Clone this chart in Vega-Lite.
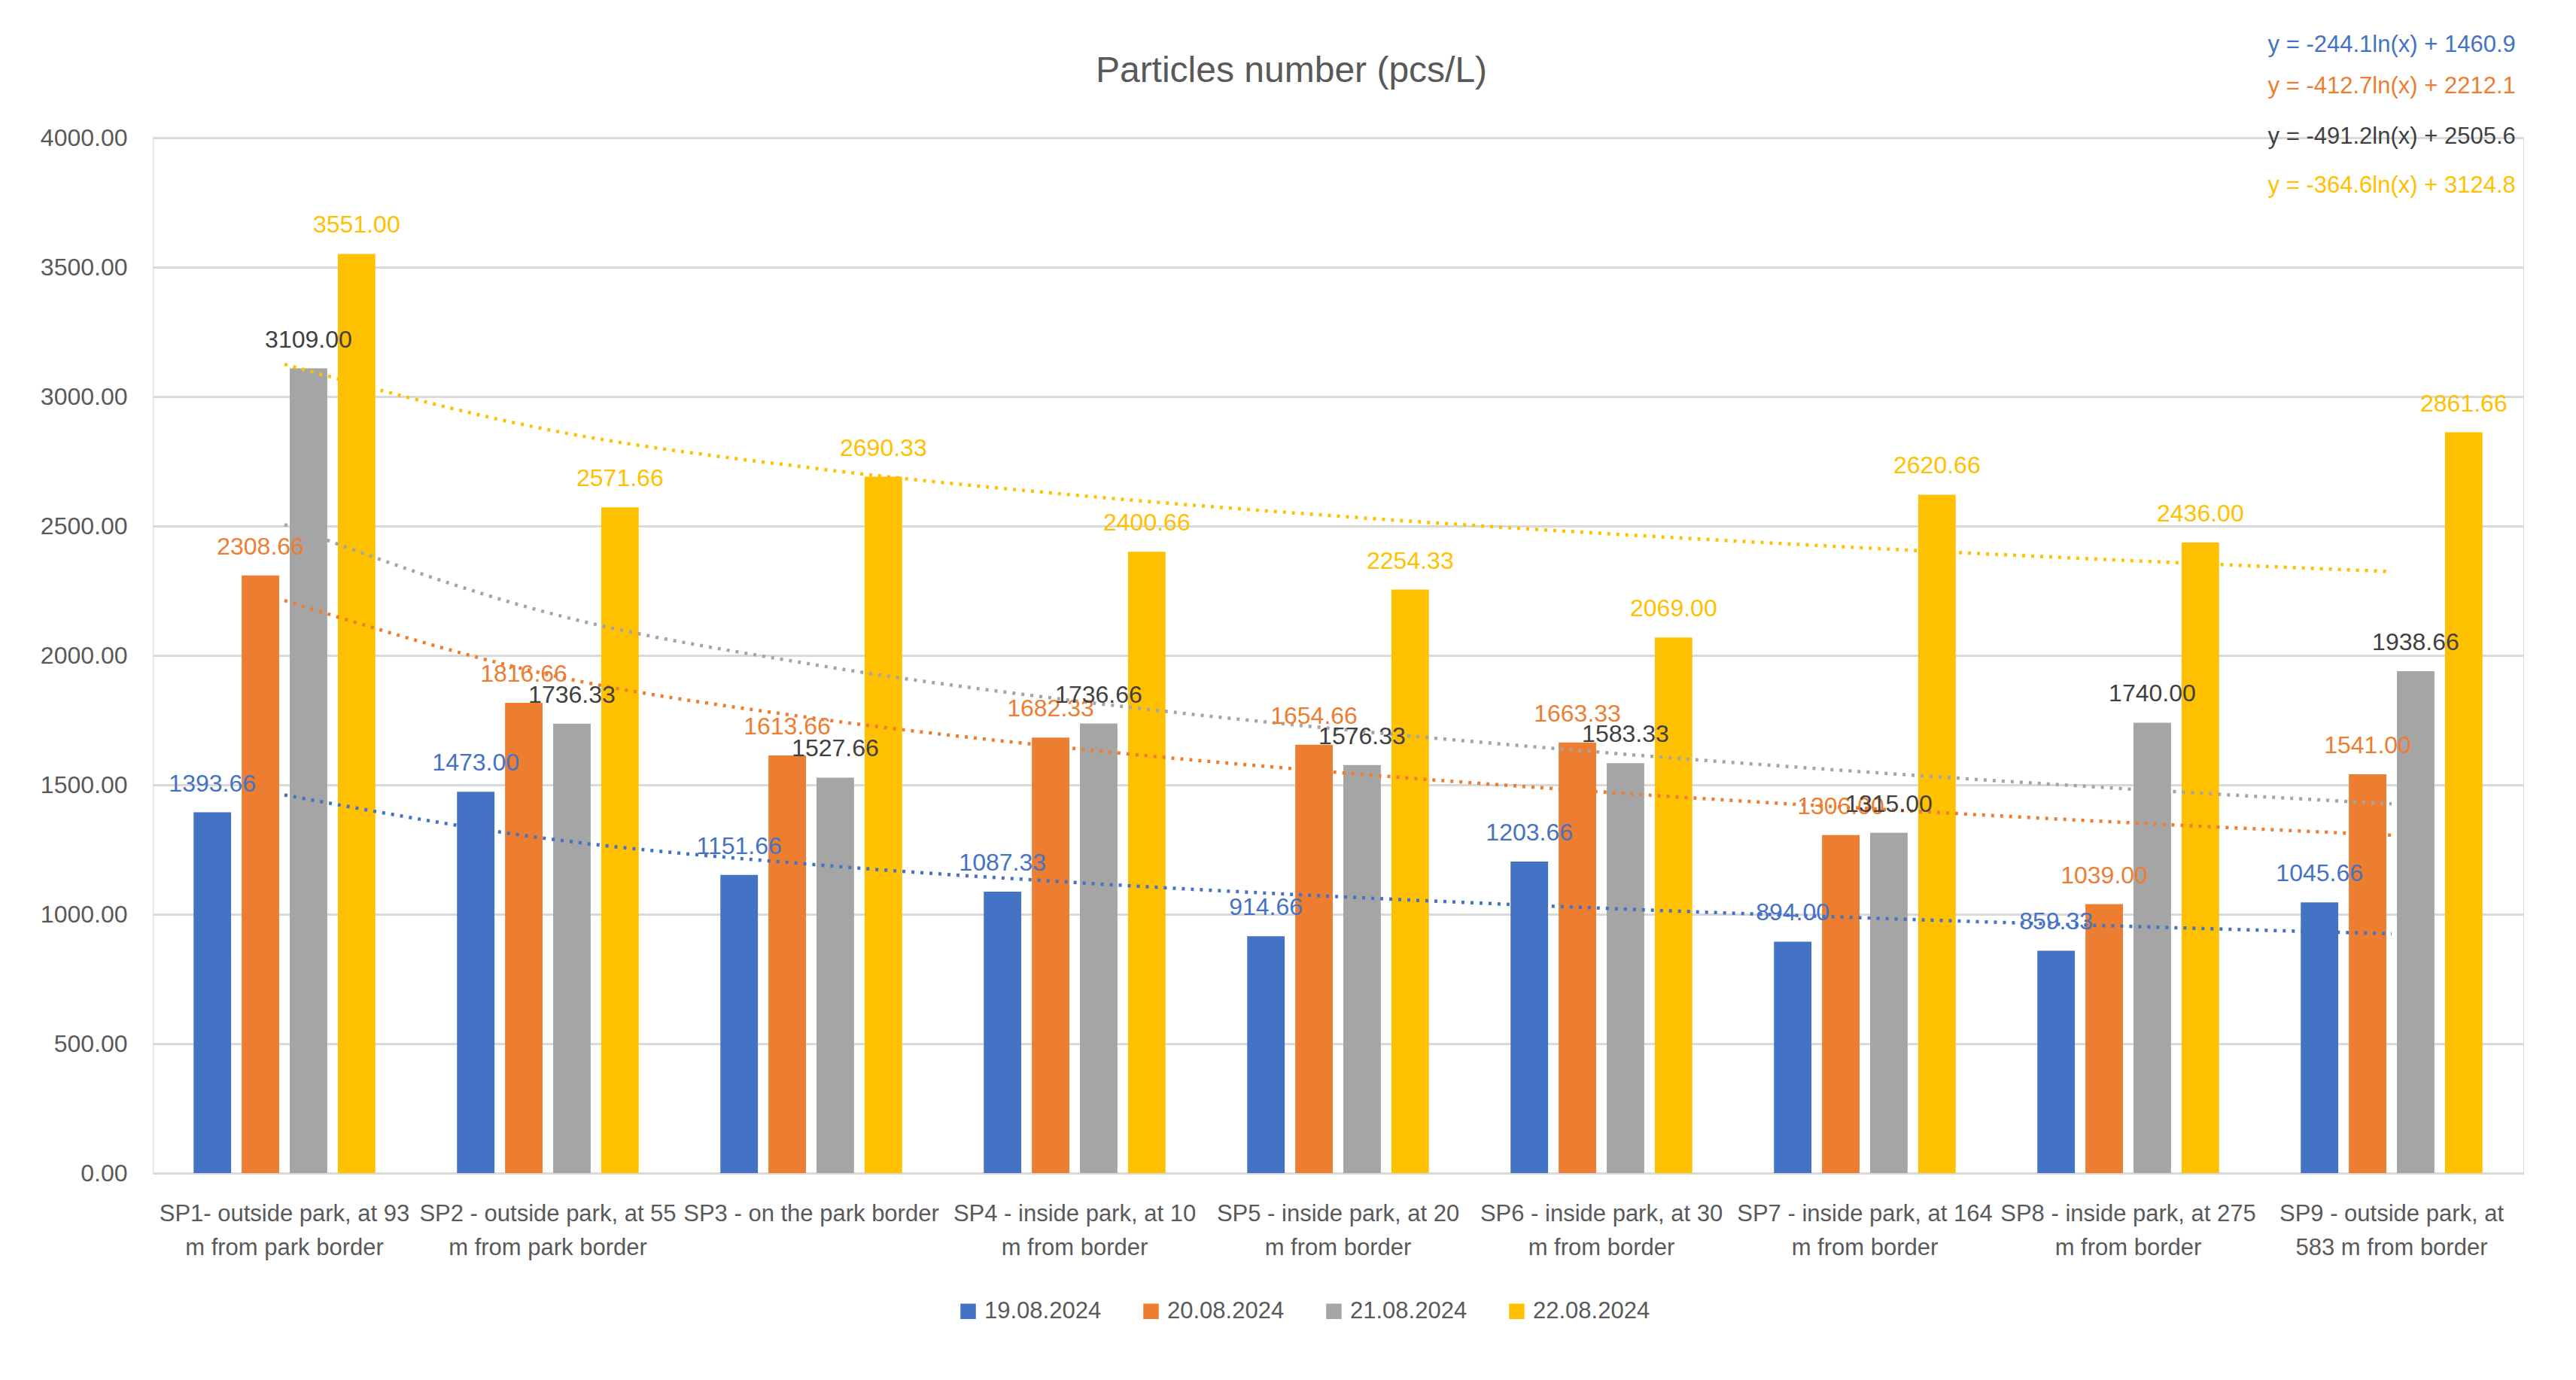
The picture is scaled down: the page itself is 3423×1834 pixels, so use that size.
{
  "$schema": "https://vega.github.io/schema/vega-lite/v6.json",
  "autosize": {"type": "none"},
  "padding": {"left": 203, "top": 183, "right": 70, "bottom": 275},
  "width": 3150,
  "height": 1376,
  "background": "white",
  "title": {
    "text": "Particles number (pcs/L)",
    "font": "Liberation Sans",
    "fontSize": 48,
    "fontWeight": "normal",
    "color": "#595959",
    "anchor": "middle",
    "frame": "group",
    "dx": -62,
    "dy": 79
  },
  "datasets": {
    "bars": [
      {"site": "SP1", "date": "19.08.2024", "value": 1393.66},
      {"site": "SP1", "date": "20.08.2024", "value": 2308.66},
      {"site": "SP1", "date": "21.08.2024", "value": 3109.00},
      {"site": "SP1", "date": "22.08.2024", "value": 3551.00},
      {"site": "SP2", "date": "19.08.2024", "value": 1473.00},
      {"site": "SP2", "date": "20.08.2024", "value": 1816.66},
      {"site": "SP2", "date": "21.08.2024", "value": 1736.33},
      {"site": "SP2", "date": "22.08.2024", "value": 2571.66},
      {"site": "SP3", "date": "19.08.2024", "value": 1151.66},
      {"site": "SP3", "date": "20.08.2024", "value": 1613.66},
      {"site": "SP3", "date": "21.08.2024", "value": 1527.66},
      {"site": "SP3", "date": "22.08.2024", "value": 2690.33},
      {"site": "SP4", "date": "19.08.2024", "value": 1087.33},
      {"site": "SP4", "date": "20.08.2024", "value": 1682.33},
      {"site": "SP4", "date": "21.08.2024", "value": 1736.66},
      {"site": "SP4", "date": "22.08.2024", "value": 2400.66},
      {"site": "SP5", "date": "19.08.2024", "value": 914.66},
      {"site": "SP5", "date": "20.08.2024", "value": 1654.66},
      {"site": "SP5", "date": "21.08.2024", "value": 1576.33},
      {"site": "SP5", "date": "22.08.2024", "value": 2254.33},
      {"site": "SP6", "date": "19.08.2024", "value": 1203.66},
      {"site": "SP6", "date": "20.08.2024", "value": 1663.33},
      {"site": "SP6", "date": "21.08.2024", "value": 1583.33},
      {"site": "SP6", "date": "22.08.2024", "value": 2069.00},
      {"site": "SP7", "date": "19.08.2024", "value": 894.00},
      {"site": "SP7", "date": "20.08.2024", "value": 1306.00},
      {"site": "SP7", "date": "21.08.2024", "value": 1315.00},
      {"site": "SP7", "date": "22.08.2024", "value": 2620.66},
      {"site": "SP8", "date": "19.08.2024", "value": 859.33},
      {"site": "SP8", "date": "20.08.2024", "value": 1039.00},
      {"site": "SP8", "date": "21.08.2024", "value": 1740.00},
      {"site": "SP8", "date": "22.08.2024", "value": 2436.00},
      {"site": "SP9", "date": "19.08.2024", "value": 1045.66},
      {"site": "SP9", "date": "20.08.2024", "value": 1541.00},
      {"site": "SP9", "date": "21.08.2024", "value": 1938.66},
      {"site": "SP9", "date": "22.08.2024", "value": 2861.66}
    ],
    "trend": [
      {"site": "SP1", "date": "19.08.2024", "value": 1460.9},
      {"site": "SP2", "date": "19.08.2024", "value": 1291.7},
      {"site": "SP3", "date": "19.08.2024", "value": 1192.7},
      {"site": "SP4", "date": "19.08.2024", "value": 1122.5},
      {"site": "SP5", "date": "19.08.2024", "value": 1068.0},
      {"site": "SP6", "date": "19.08.2024", "value": 1023.5},
      {"site": "SP7", "date": "19.08.2024", "value": 985.9},
      {"site": "SP8", "date": "19.08.2024", "value": 953.3},
      {"site": "SP9", "date": "19.08.2024", "value": 924.6},
      {"site": "SP1", "date": "20.08.2024", "value": 2212.1},
      {"site": "SP2", "date": "20.08.2024", "value": 1926.0},
      {"site": "SP3", "date": "20.08.2024", "value": 1758.7},
      {"site": "SP4", "date": "20.08.2024", "value": 1640.0},
      {"site": "SP5", "date": "20.08.2024", "value": 1547.9},
      {"site": "SP6", "date": "20.08.2024", "value": 1472.6},
      {"site": "SP7", "date": "20.08.2024", "value": 1409.0},
      {"site": "SP8", "date": "20.08.2024", "value": 1353.9},
      {"site": "SP9", "date": "20.08.2024", "value": 1305.3},
      {"site": "SP1", "date": "21.08.2024", "value": 2505.6},
      {"site": "SP2", "date": "21.08.2024", "value": 2165.1},
      {"site": "SP3", "date": "21.08.2024", "value": 1966.0},
      {"site": "SP4", "date": "21.08.2024", "value": 1824.7},
      {"site": "SP5", "date": "21.08.2024", "value": 1715.1},
      {"site": "SP6", "date": "21.08.2024", "value": 1625.5},
      {"site": "SP7", "date": "21.08.2024", "value": 1549.8},
      {"site": "SP8", "date": "21.08.2024", "value": 1484.2},
      {"site": "SP9", "date": "21.08.2024", "value": 1426.3},
      {"site": "SP1", "date": "22.08.2024", "value": 3124.8},
      {"site": "SP2", "date": "22.08.2024", "value": 2872.1},
      {"site": "SP3", "date": "22.08.2024", "value": 2724.3},
      {"site": "SP4", "date": "22.08.2024", "value": 2619.3},
      {"site": "SP5", "date": "22.08.2024", "value": 2538.0},
      {"site": "SP6", "date": "22.08.2024", "value": 2471.5},
      {"site": "SP7", "date": "22.08.2024", "value": 2415.3},
      {"site": "SP8", "date": "22.08.2024", "value": 2366.6},
      {"site": "SP9", "date": "22.08.2024", "value": 2323.7}
    ],
    "equations": [
      {"site": "SP9", "date": "19.08.2024", "eq": "y = -244.1ln(x) + 1460.9", "value": 4358},
      {"site": "SP9", "date": "20.08.2024", "eq": "y = -412.7ln(x) + 2212.1", "value": 4198},
      {"site": "SP9", "date": "21.08.2024", "eq": "y = -491.2ln(x) + 2505.6", "value": 4003},
      {"site": "SP9", "date": "22.08.2024", "eq": "y = -364.6ln(x) + 3124.8", "value": 3814}
    ]
  },
  "resolve": {"scale": {"color": "independent"}},
  "layer": [
    {
      "data": {"name": "bars"},
      "mark": {"type": "bar"},
      "encoding": {
        "x": {
          "field": "site",
          "type": "nominal",
          "sort": null,
          "title": null,
          "scale": {"paddingInner": 0.31, "paddingOuter": 0.155},
          "axis": {
            "labelAngle": 0,
            "labelFont": "Liberation Sans",
            "labelFontSize": 31,
            "labelColor": "#595959",
            "labelPadding": 39,
            "labelLineHeight": 45,
            "labelOverlap": false,
            "labelBound": false,
            "labelLimit": 0,
            "ticks": false,
            "domainColor": "#D9D9D9",
            "domainWidth": 3,
            "grid": false,
            "labelExpr": "{'SP1': ['SP1- outside park, at 93', 'm from park border'], 'SP2': ['SP2 - outside park, at 55', 'm from park border'], 'SP3': 'SP3 - on the park border', 'SP4': ['SP4 - inside park, at 10', 'm from border'], 'SP5': ['SP5 - inside park, at 20', 'm from border'], 'SP6': ['SP6 - inside park, at 30', 'm from border'], 'SP7': ['SP7 - inside park, at 164', 'm from border'], 'SP8': ['SP8 - inside park, at 275', 'm from border'], 'SP9': ['SP9 - outside park, at', '583 m from border']}[datum.label]"
          }
        },
        "xOffset": {
          "field": "date",
          "type": "nominal",
          "scale": {"paddingInner": 0.22, "paddingOuter": 0}
        },
        "y": {
          "field": "value",
          "type": "quantitative",
          "title": null,
          "scale": {"domain": [0, 4000], "nice": false},
          "axis": {
            "values": [0, 500, 1000, 1500, 2000, 2500, 3000, 3500, 4000],
            "format": ".2f",
            "labelFont": "Liberation Sans",
            "labelFontSize": 32,
            "labelColor": "#595959",
            "labelPadding": 34,
            "ticks": false,
            "domain": false,
            "gridColor": "#D9D9D9",
            "gridWidth": 3
          }
        },
        "color": {
          "field": "date",
          "type": "nominal",
          "scale": {
            "domain": ["19.08.2024", "20.08.2024", "21.08.2024", "22.08.2024"],
            "range": ["#4472C4", "#ED7D31", "#A5A5A5", "#FFC000"]
          },
          "legend": {
            "orient": "none",
            "legendX": 1068,
            "legendY": 1544,
            "direction": "horizontal",
            "title": null,
            "symbolType": "square",
            "symbolSize": 420,
            "symbolStrokeWidth": 0,
            "labelFont": "Liberation Sans",
            "labelFontSize": 31,
            "labelColor": "#595959",
            "labelOffset": 6,
            "columnPadding": 50
          }
        }
      }
    },
    {
      "data": {"name": "trend"},
      "mark": {"type": "line", "strokeDash": [4, 8], "strokeWidth": 4.5, "interpolate": "monotone"},
      "encoding": {
        "x": {"field": "site", "type": "nominal", "sort": null, "title": null},
        "y": {"field": "value", "type": "quantitative", "title": null},
        "color": {
          "field": "date",
          "type": "nominal",
          "scale": {
            "domain": ["19.08.2024", "20.08.2024", "21.08.2024", "22.08.2024"],
            "range": ["#4472C4", "#ED7D31", "#A5A5A5", "#FFC000"]
          },
          "legend": null
        }
      }
    },
    {
      "data": {"name": "bars"},
      "mark": {"type": "text", "font": "Liberation Sans", "fontSize": 32, "baseline": "alphabetic", "dy": -28},
      "encoding": {
        "x": {"field": "site", "type": "nominal", "sort": null, "title": null},
        "xOffset": {"field": "date", "type": "nominal"},
        "y": {"field": "value", "type": "quantitative", "title": null},
        "text": {"field": "value", "type": "quantitative", "format": ".2f"},
        "color": {
          "field": "date",
          "type": "nominal",
          "scale": {
            "domain": ["19.08.2024", "20.08.2024", "21.08.2024", "22.08.2024"],
            "range": ["#4472C4", "#ED7D31", "#404040", "#FFC000"]
          },
          "legend": null
        }
      }
    },
    {
      "data": {"name": "equations"},
      "mark": {"type": "text", "font": "Liberation Sans", "fontSize": 31, "align": "right", "baseline": "middle", "dx": 44},
      "encoding": {
        "x": {"field": "site", "type": "nominal", "sort": null, "title": null, "bandPosition": 1},
        "y": {"field": "value", "type": "quantitative", "title": null},
        "text": {"field": "eq", "type": "nominal"},
        "color": {
          "field": "date",
          "type": "nominal",
          "scale": {
            "domain": ["19.08.2024", "20.08.2024", "21.08.2024", "22.08.2024"],
            "range": ["#4472C4", "#ED7D31", "#404040", "#FFC000"]
          },
          "legend": null
        }
      }
    }
  ]
}
